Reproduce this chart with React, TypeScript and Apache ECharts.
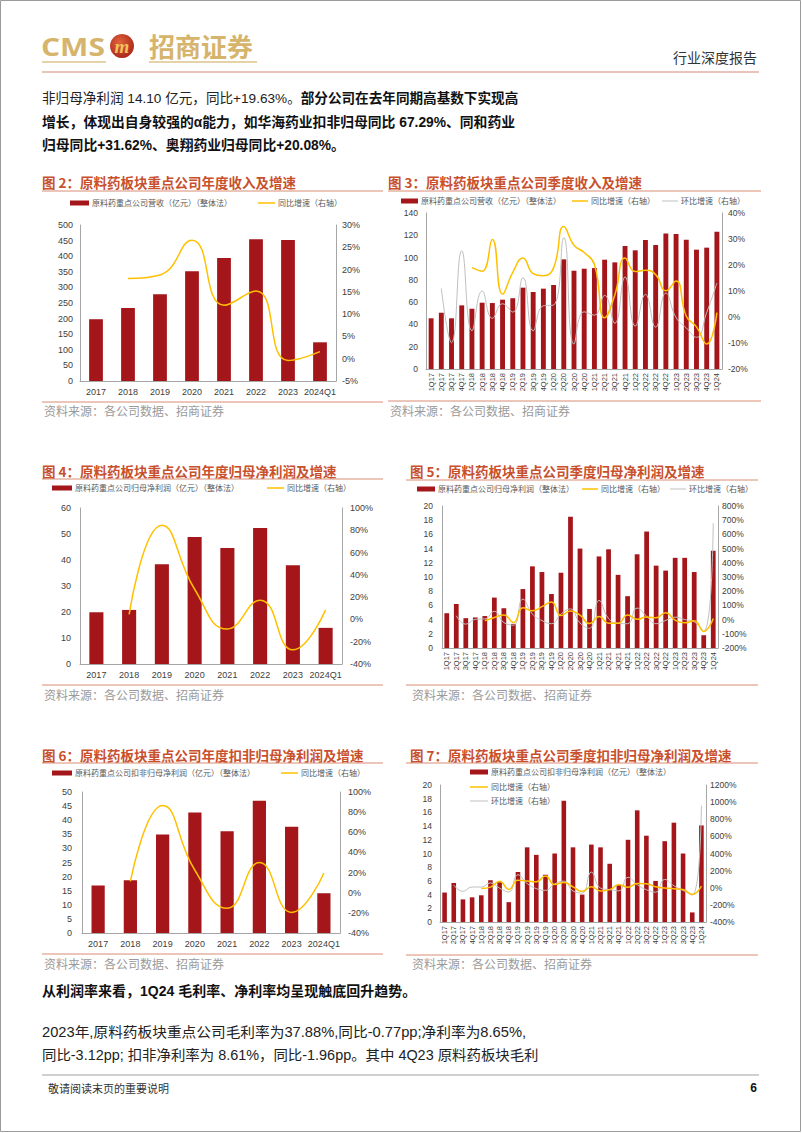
import React, { useEffect, useRef } from "react";
import * as echarts from "echarts";

// ---------------- DATA ----------------
const yearCats = ["2017", "2018", "2019", "2020", "2021", "2022", "2023", "2024Q1"];
const quarterCats = [
  "1Q17", "2Q17", "3Q17", "4Q17", "1Q18", "2Q18", "3Q18", "4Q18",
  "1Q19", "2Q19", "3Q19", "4Q19", "1Q20", "2Q20", "3Q20", "4Q20",
  "1Q21", "2Q21", "3Q21", "4Q21", "1Q22", "2Q22", "3Q22", "4Q22",
  "1Q23", "2Q23", "3Q23", "4Q23", "1Q24",
];

// Fig 2: annual revenue
const revYear = [198, 234, 278, 352, 394, 454, 452, 124];
const revYearYoy = [null, 18.0, 18.8, 26.6, 12.0, 15.2, -0.4, 1.6];

// Fig 3: quarterly revenue
const revQ = [45.5, 50.5, 45.5, 57.1, 54.1, 59.5, 59.2, 62.2, 63.4, 73.0, 69.1, 72.1, 75.4, 98.4, 88.2, 90.0,
  90.6, 98.1, 95.7, 110.4, 106.5, 115.8, 111.3, 121.5, 121.2, 116.1, 107.1, 108.9, 123.2];
const revQYoy = [null, null, null, null, 19.0, 17.6, 29.8, 8.8, 17.2, 22.7, 16.7, 15.9, 18.9, 34.8, 27.6, 24.8,
  20.2, -0.3, 8.5, 22.7, 17.5, 18.0, 16.3, 10.1, 13.8, 0.3, -3.8, -10.4, 1.7];
const revQQoq = [null, 11.0, -9.9, 25.5, -5.3, 10.0, -0.5, 5.1, 1.9, 15.1, -5.3, 4.3, 4.6, 30.5, -10.4, 2.0,
  0.7, 8.3, -2.4, 15.4, -3.5, 8.7, -3.9, 9.2, -0.2, -4.2, -7.8, 1.7, 13.1];

// Fig 4: annual net profit attributable
const npYear = [19.9, 20.8, 38.4, 48.8, 44.6, 52.3, 38.0, 13.9];
const npYearYoy = [null, 4.5, 84.6, 27.1, -8.6, 17.3, -27.3, 8.6];

// Fig 5: quarterly net profit attributable
const npQ = [4.9, 6.2, 4.2, 4.3, 4.5, 7.1, 5.6, 3.4, 8.3, 11.5, 10.7, 7.6, 10.6, 18.5, 14.0, 5.5,
  12.9, 13.9, 10.3, 7.3, 13.2, 16.4, 11.6, 10.9, 12.7, 12.7, 10.7, 1.8, 13.7];
const npQYoy = [null, null, null, null, -8, 15, 33, -21, 84, 62, 91, 124, 28, 61, 31, -28,
  22, -25, -26, 33, 2, 18, 13, 49, -4, -23, -8, -83, 8];
const npQQoq = [null, 27, -32, 2, 5, 58, -21, -39, 144, 39, -7, -29, 39, 75, -24, -61,
  135, 8, -26, -29, 81, 24, -29, -6, 17, 0, -16, -83, 680];

// Fig 6: annual deducted net profit
const kfYear = [16.8, 18.7, 34.9, 42.7, 36.1, 46.9, 37.7, 14.1];
const kfYearYoy = [null, 11.3, 86.6, 22.3, -15.5, 29.9, -19.6, 19.6];

// Fig 7: quarterly deducted net profit
const kfQ = [4.3, 5.7, 3.3, 3.6, 3.9, 6.1, 5.8, 2.9, 7.3, 10.9, 9.8, 6.9, 10.0, 17.7, 10.9, 4.0,
  11.3, 10.9, 8.5, 5.4, 12.0, 16.3, 12.6, 6.0, 11.8, 14.5, 10.0, 1.4, 14.1];
const kfQYoy = [null, null, null, null, -9, 7, 76, -19, 87, 79, 69, 138, 37, 62, 11, -42,
  13, -38, -22, 35, 6, 50, 48, 11, -2, -11, -21, -77, 20];
const kfQQoq = [null, 33, -42, 9, 8, 56, -5, -50, 152, 49, -10, -30, 45, 77, -38, -63,
  183, -4, -22, -36, 122, 36, -23, -52, 97, 23, -31, -86, 960];

// legend names
const N_REV = "原料药重点公司营收（亿元）（整体法）";
const N_NP = "原料药重点公司归母净利润（亿元）（整体法）";
const N_NPQ = "原料药重点公司归母净利润（整体法）";
const N_KF = "原料药重点公司扣非归母净利润（亿元）（整体法）";
const N_YOY = "同比增速（右轴）";
const N_QOQ = "环比增速（右轴）";

// ---------------- STYLE ----------------
const BAR = "#A5161B";
const YEL = "#FFC000";
const GRY = "#BFBFBF";
const AXIS = "#A6A6A6";
const TITLE = "#C8502D";
const RULE = "#D98C74";
const CJK = '"Noto Sans CJK SC", sans-serif';
const NUM = '"Liberation Sans", Arial, "Noto Sans CJK SC", sans-serif';

type ChartDef = {
  grid: { left: number; top: number; width: number; height: number };
  cats: string[];
  quarterly: boolean;
  left: { min: number; max: number; interval: number };
  right: { min: number; max: number; interval: number };
  barName: string;
  bars: number[];
  barWidth: string;
  yoy: (number | null)[];
  qoq?: (number | null)[];
  legends: { name: string; left: number; y: number; w: number; bar?: boolean; lw?: number }[];
  lm: number; rm: number; fs: number;
};

const charts: ChartDef[] = [
  {
    grid: { left: 80, top: 225, width: 256, height: 156 }, cats: yearCats, quarterly: false,
    left: { min: 0, max: 500, interval: 50 }, right: { min: -5, max: 30, interval: 5 },
    barName: N_REV, bars: revYear, barWidth: "43%", yoy: revYearYoy,
    legends: [
      { name: N_REV, left: 70, y: 204, w: 19, bar: true },
      { name: N_YOY, left: 258, y: 204, w: 17, lw: 1.5 },
    ], lm: 7, rm: 6, fs: 9,
  },
  {
    grid: { left: 426, top: 213, width: 296, height: 156 }, cats: quarterCats, quarterly: true,
    left: { min: 0, max: 140, interval: 20 }, right: { min: -20, max: 40, interval: 10 },
    barName: N_REV, bars: revQ, barWidth: "48%", yoy: revQYoy, qoq: revQQoq,
    legends: [
      { name: N_REV, left: 401, y: 202, w: 17, bar: true },
      { name: N_YOY, left: 572, y: 202, w: 16, lw: 1.5 },
      { name: N_QOQ, left: 662, y: 202, w: 16, lw: 1 },
    ], lm: 8, rm: 6, fs: 8.5,
  },
  {
    grid: { left: 80, top: 508, width: 262, height: 156 }, cats: yearCats, quarterly: false,
    left: { min: 0, max: 60, interval: 10 }, right: { min: -40, max: 100, interval: 20 },
    barName: N_NP, bars: npYear, barWidth: "43%", yoy: npYearYoy,
    legends: [
      { name: N_NP, left: 52, y: 489, w: 20, bar: true },
      { name: N_YOY, left: 267, y: 489, w: 17, lw: 1.5 },
    ], lm: 9, rm: 8, fs: 9,
  },
  {
    grid: { left: 442, top: 506, width: 276, height: 142 }, cats: quarterCats, quarterly: true,
    left: { min: 0, max: 20, interval: 2 }, right: { min: -200, max: 800, interval: 100 },
    barName: N_NPQ, bars: npQ, barWidth: "50%", yoy: npQYoy, qoq: npQQoq,
    legends: [
      { name: N_NPQ, left: 417, y: 490, w: 18, bar: true },
      { name: N_YOY, left: 582, y: 490, w: 16, lw: 1.5 },
      { name: N_QOQ, left: 670, y: 490, w: 16, lw: 1 },
    ], lm: 9, rm: 4, fs: 8.5,
  },
  {
    grid: { left: 82, top: 792, width: 258, height: 141 }, cats: yearCats, quarterly: false,
    left: { min: 0, max: 50, interval: 5 }, right: { min: -40, max: 100, interval: 20 },
    barName: N_KF, bars: kfYear, barWidth: "41%", yoy: kfYearYoy,
    legends: [
      { name: N_KF, left: 52, y: 774, w: 20, bar: true },
      { name: N_YOY, left: 281, y: 774, w: 17, lw: 1.5 },
    ], lm: 10, rm: 8, fs: 9,
  },
  {
    grid: { left: 440, top: 785, width: 266, height: 137 }, cats: quarterCats, quarterly: true,
    left: { min: 0, max: 20, interval: 2 }, right: { min: -400, max: 1200, interval: 200 },
    barName: N_KF, bars: kfQ, barWidth: "50%", yoy: kfQYoy, qoq: kfQQoq,
    legends: [
      { name: N_KF, left: 470, y: 773, w: 18, bar: true },
      { name: N_YOY, left: 470, y: 788, w: 18, lw: 1.5 },
      { name: N_QOQ, left: 470, y: 802, w: 18, lw: 1 },
    ], lm: 8, rm: 4, fs: 8.5,
  },
];

const titles = [
  { x: 42, y: 182, text: "图 2：原料药板块重点公司年度收入及增速", x1: 42, x2: 383, ly: 191, by: 402, sy: 410 },
  { x: 388, y: 182, text: "图 3：原料药板块重点公司季度收入及增速", x1: 388, x2: 761, ly: 191, by: 401, sy: 410 },
  { x: 42, y: 471, text: "图 4：原料药板块重点公司年度归母净利润及增速", x1: 42, x2: 383, ly: 479, by: 685, sy: 694 },
  { x: 410, y: 471, text: "图 5：原料药板块重点公司季度归母净利润及增速", x1: 406, x2: 758, ly: 480, by: 685, sy: 694 },
  { x: 42, y: 755, text: "图 6：原料药板块重点公司年度扣非归母净利润及增速", x1: 42, x2: 383, ly: 763, by: 954, sy: 963 },
  { x: 410, y: 755, text: "图 7：原料药板块重点公司季度扣非归母净利润及增速", x1: 406, x2: 758, ly: 763, by: 955, sy: 963 },
];
const SOURCE = "资料来源：各公司数据、招商证券";

function txt(x: number, y: number, text: string, font: string, fill: string, align = "left", scaleX = 1) {
  return {
    type: "text", x, y, scaleX, silent: true,
    style: { text, font, fill, textAlign: align, textVerticalAlign: "middle", align, verticalAlign: "middle" },
  };
}
function hline(x1: number, x2: number, y: number, stroke: string, lineWidth = 1) {
  return { type: "line", silent: true, shape: { x1, y1: y, x2, y2: y }, style: { stroke, lineWidth } };
}

const pct = (v: number) => `${v}%`;

function buildOption() {
  const grid: any[] = [];
  const xAxis: any[] = [];
  const yAxis: any[] = [];
  const series: any[] = [];
  const legend: any[] = [];

  charts.forEach((c, i) => {
    grid.push({ ...c.grid, containLabel: false });
    xAxis.push({
      type: "category", gridIndex: i, data: c.cats, boundaryGap: true,
      axisLine: { show: true, onZero: false, lineStyle: { color: AXIS, width: 1 } },
      axisTick: { show: false },
      axisLabel: {
        interval: 0, rotate: c.quarterly ? 90 : 0, color: "#404040",
        fontFamily: NUM, fontSize: c.quarterly ? 7.5 : 9, margin: c.quarterly ? 4 : 6,
      },
      splitLine: { show: false },
    });
    const yBase = {
      type: "value", gridIndex: i, splitLine: { show: false },
      axisLine: { show: true, lineStyle: { color: AXIS, width: 1 } }, axisTick: { show: false },
    };
    yAxis.push({
      ...yBase, position: "left", ...c.left,
      axisLabel: { color: "#404040", fontFamily: NUM, fontSize: c.fs, margin: c.lm },
    });
    yAxis.push({
      ...yBase, position: "right", ...c.right,
      axisLabel: { color: "#404040", fontFamily: NUM, fontSize: c.fs, margin: c.rm, formatter: pct },
    });
    series.push({
      name: c.barName, type: "bar", xAxisIndex: i, yAxisIndex: 2 * i, data: c.bars,
      barWidth: c.barWidth, itemStyle: { color: BAR }, silent: true,
    });
    series.push({
      name: N_YOY, type: "line", xAxisIndex: i, yAxisIndex: 2 * i + 1, data: c.yoy,
      smooth: 0.5, symbol: "none", lineStyle: { color: YEL, width: 1.5 }, itemStyle: { color: YEL },
      connectNulls: false, silent: true, z: 4,
    });
    if (c.qoq) {
      series.push({
        name: N_QOQ, type: "line", xAxisIndex: i, yAxisIndex: 2 * i + 1, data: c.qoq,
        smooth: 0.5, symbol: "none", lineStyle: { color: GRY, width: 1 }, itemStyle: { color: GRY },
        silent: true, z: 3,
      });
    }
    c.legends.forEach((l) => {
      legend.push({
        left: l.left, top: l.y - 5, padding: 0, itemGap: 0, itemWidth: l.w,
        itemHeight: l.bar ? 5 : (l.lw || 1.5), icon: "rect",
        selectedMode: false, data: [l.name],
        textStyle: { fontSize: 8, color: "#595959", fontFamily: CJK, padding: [0, 0, 0, -2] },
      });
    });
  });

  const g: any[] = [];
  // page border
  g.push({ type: "rect", silent: true, shape: { x: 0.5, y: 0.5, width: 800, height: 1131 }, style: { fill: "none", stroke: "#9a9a9a", lineWidth: 1 } });
  // logo
  g.push(txt(41, 46, "CMS", 'bold 25px "Open Sans", "Liberation Sans", sans-serif', "#D6B46C", "left", 1.2));
  g.push({ type: "circle", silent: true, shape: { cx: 122, cy: 46, r: 12 },
    style: { fill: new echarts.graphic.RadialGradient(0.4, 0.35, 0.7, [
      { offset: 0, color: "#E0633B" }, { offset: 1, color: "#A8261A" }]) } });
  g.push(txt(122, 46, "m", 'italic bold 19px "Liberation Serif", serif', "#F2C15A", "center"));
  g.push(txt(149, 45, "招商证券", `bold 26px ${CJK}`, "#D6B46C"));
  g.push(hline(42, 106, 62, "#DCC38C", 1.5));
  g.push(hline(149, 257, 62, "#DCC38C", 1.5));
  g.push(txt(757, 57, "行业深度报告", `14px ${CJK}`, "#333333", "right"));
  g.push(hline(42, 759, 72, "#D4877A", 1));

  // body text
  g.push({
    type: "text", x: 42, y: 98, silent: true,
    style: {
      text: "{a|非归母净利润 14.10 亿元，同比+19.63%。}{b|部分公司在去年同期高基数下实现高}",
      textVerticalAlign: "middle", verticalAlign: "middle",
      rich: {
        a: { fontSize: 13.6, fontFamily: NUM, fill: "#222", color: "#222" },
        b: { fontSize: 13.6, fontFamily: NUM, fontWeight: "bold", fill: "#111", color: "#111" },
      },
    },
  });
  g.push(txt(42, 122, "增长，体现出自身较强的α能力，如华海药业扣非归母同比 67.29%、同和药业", `bold 13.8px ${NUM}`, "#111"));
  g.push(txt(42, 145, "归母同比+31.62%、奥翔药业归母同比+20.08%。", `bold 13.8px ${NUM}`, "#111"));

  titles.forEach((t) => {
    g.push(txt(t.x, t.y, t.text, `bold 13.5px ${CJK}`, TITLE));
    g.push(hline(t.x1, t.x2, t.ly, RULE, 1));
    g.push(hline(t.x1, t.x2, t.by, RULE, 1));
    g.push(txt(t.x + 2, t.sy, SOURCE, `12px ${CJK}`, "#9a9a9a"));
  });

  g.push(txt(42, 991, "从利润率来看，1Q24 毛利率、净利率均呈现触底回升趋势。", `bold 14px ${NUM}`, "#111"));
  g.push(txt(42, 1032, "2023年,原料药板块重点公司毛利率为37.88%,同比-0.77pp;净利率为8.65%,", `14px ${NUM}`, "#222", "left", 1.05));
  g.push(txt(42, 1055, "同比-3.12pp; 扣非净利率为 8.61%，同比-1.96pp。其中 4Q23 原料药板块毛利", `14px ${NUM}`, "#222", "left", 1.03));
  g.push(hline(42, 759, 1075, "#A0A0A0", 1));
  g.push(txt(48, 1088, "敬请阅读末页的重要说明", `11px ${CJK}`, "#333"));
  g.push(txt(757, 1088, "6", `bold 12px ${NUM}`, "#111", "right"));

  return {
    animation: false,
    backgroundColor: "#ffffff",
    textStyle: { fontFamily: NUM },
    grid, xAxis, yAxis, series, legend,
    graphic: { elements: g },
  };
}

export default function App() {
  const ref = useRef<HTMLDivElement>(null);
  useEffect(() => {
    if (!ref.current) return;
    const chart = echarts.init(ref.current, undefined, { renderer: "svg", width: 802, height: 1133 });
    chart.setOption(buildOption() as any);
    return () => chart.dispose();
  }, []);
  return (
    <div style={{ position: "absolute", left: 0, top: 0, width: 802, height: 1133, background: "#fff" }}>
      <div ref={ref} style={{ width: 802, height: 1133 }} />
    </div>
  );
}
